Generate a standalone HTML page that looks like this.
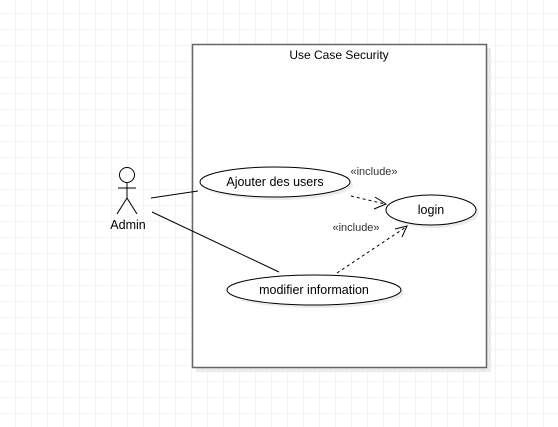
<!DOCTYPE html>
<html><head><meta charset="utf-8"><style>
html,body{margin:0;padding:0;background:#fff;width:558px;height:427px;overflow:hidden}
svg{display:block}
text{font-family:"Liberation Sans",sans-serif}
</style></head><body>
<svg width="558" height="427" viewBox="0 0 558 427" xmlns="http://www.w3.org/2000/svg">
<defs>
<pattern id="g" x="15" y="13" width="16" height="16" patternUnits="userSpaceOnUse">
<path d="M0 0H16M0 0V16" stroke="#e8e8e8" stroke-width="1" fill="none"/>
</pattern>
</defs>
<rect width="558" height="427" fill="url(#g)"/>
<rect x="196" y="48" width="295" height="324" fill="#ebebeb"/>
<rect x="192.5" y="44.5" width="294" height="323" fill="#fff" stroke="#666" stroke-width="1.5"/>
<text x="339" y="59" font-size="12" text-anchor="middle">Use Case Security</text>
<g stroke="#000" fill="none" stroke-width="1">
<circle cx="127" cy="175" r="7.5" fill="#fff"/>
<line x1="127" y1="183" x2="127" y2="198"/>
<line x1="118" y1="188" x2="136" y2="188"/>
<line x1="127" y1="198" x2="117" y2="214"/>
<line x1="127" y1="198" x2="137" y2="214"/>
</g>
<text x="128" y="229" font-size="12.5" text-anchor="middle">Admin</text>
<ellipse cx="278" cy="185" rx="75" ry="15" fill="#ececec"/>
<ellipse cx="434" cy="213" rx="45" ry="15" fill="#ececec"/>
<ellipse cx="317" cy="293" rx="87" ry="15" fill="#ececec"/>
<ellipse cx="275" cy="182" rx="75" ry="15" fill="#fff" stroke="#000"/>
<text x="275" y="186" font-size="12.5" text-anchor="middle">Ajouter des users</text>
<ellipse cx="431" cy="210" rx="45" ry="15" fill="#fff" stroke="#000"/>
<text x="431" y="214" font-size="12.5" text-anchor="middle">login</text>
<ellipse cx="314" cy="290" rx="87" ry="15" fill="#fff" stroke="#000"/>
<text x="314" y="294" font-size="12.5" text-anchor="middle">modifier information</text>
<line x1="151" y1="198" x2="198" y2="191" stroke="#000"/>
<line x1="152" y1="212" x2="279" y2="272" stroke="#000"/>
<g stroke="#000" fill="none">
<line x1="351" y1="196" x2="385" y2="204" stroke-dasharray="3,3"/>
<polyline points="375,197 386,204 374,209"/>
<line x1="337" y1="273" x2="406" y2="227" stroke-dasharray="3,3"/>
<polyline points="395,229 407,226 402,237"/>
</g>
<text x="374" y="175" font-size="11" fill="#333" text-anchor="middle">«include»</text>
<text x="356" y="231" font-size="11" fill="#333" text-anchor="middle">«include»</text>
</svg>
</body></html>
